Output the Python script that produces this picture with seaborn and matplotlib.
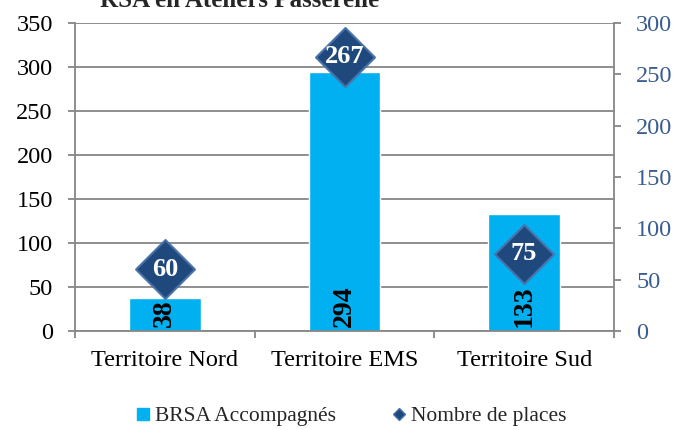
import matplotlib
matplotlib.use('Agg')
import matplotlib.pyplot as plt
import seaborn as sns
from matplotlib.lines import Line2D

# ==================== Data ====================
territoires = ['Territoire Nord', 'Territoire EMS', 'Territoire Sud']
brsa_accompagnes = [38, 294, 133]
nombre_places = [60, 267, 75]

# ==================== Style ====================
sns.set_style("white")
plt.rcParams['font.family'] = ['Liberation Serif', 'DejaVu Serif']

BAR_COLOR = '#00B0F0'
DIAMOND = '#1F497D'
DIAMOND_EDGE = '#4A72AA'
AXIS_GRAY = '#868686'
RIGHT_TXT = '#3A5D8F'

fig = plt.figure(figsize=(6.88, 4.3), dpi=100)
ax = fig.add_axes([75 / 688, 1 - 331 / 430, (614 - 75) / 688, (331 - 23) / 430])

sns.barplot(x=territoires, y=brsa_accompagnes, color=BAR_COLOR, width=0.4,
            saturation=1, ax=ax, zorder=2)
ax.set_xlim(-0.5, 2.5)
ax.set_ylim(0, 350)
ax.set_yticks(range(0, 351, 50))
ax.set_axisbelow(True)
ax.yaxis.grid(True, color=AXIS_GRAY, linewidth=1.3)
ax.xaxis.grid(False)

for side in ['top', 'right']:
    ax.spines[side].set_visible(False)
for side in ['left', 'bottom']:
    ax.spines[side].set_color(AXIS_GRAY)
    ax.spines[side].set_linewidth(1.3)

ax.tick_params(axis='y', which='major', left=True, length=5, width=1.3, color=AXIS_GRAY,
               pad=11, labelsize=17.5, labelcolor='black')
ax.tick_params(axis='x', which='major', length=0, pad=14, labelsize=17.5, labelcolor='black')
ax.set_xticks([-0.5, 0.5, 1.5, 2.5], minor=True)
ax.tick_params(axis='x', which='minor', bottom=True, length=5, width=1.3, color=AXIS_GRAY)

# bar value labels (rotated, at base)
for i, v in enumerate(brsa_accompagnes):
    ax.annotate(str(v), xy=(i, 0), xytext=(0, 3), textcoords='offset points',
                rotation=90, ha='center', va='bottom', fontsize=20,
                fontweight='bold', color='black', zorder=3)

# ==================== Secondary axis ====================
ax2 = ax.twinx()
sns.scatterplot(x=list(range(len(territoires))), y=nombre_places, marker='D', s=900,
                color=DIAMOND, edgecolor=DIAMOND_EDGE, linewidth=1.5, ax=ax2,
                zorder=4, legend=False)
ax2.set_xlim(-0.5, 2.5)
ax2.set_ylim(0, 300)
ax2.set_yticks(range(0, 301, 50))
for side in ['top', 'left', 'bottom']:
    ax2.spines[side].set_visible(False)
ax2.spines['right'].set_color(AXIS_GRAY)
ax2.spines['right'].set_linewidth(1.3)
ax2.tick_params(axis='y', right=True, length=5, width=1.3, color=AXIS_GRAY,
                pad=11, labelsize=17.5, labelcolor=RIGHT_TXT)
ax2.set_ylabel('')

for i, v in enumerate(nombre_places):
    ax2.text(i, v, str(v), ha='center', va='center', fontsize=19,
             fontweight='bold', color='white', zorder=5)

# ==================== Title & legend ====================
fig.text(240 / 688, 1 - 7 / 430, 'RSA en Ateliers Passerelle', ha='center',
         va='baseline', fontsize=18, fontweight='bold')

handles = [
    Line2D([], [], marker='s', linestyle='none', markersize=8.5,
           markerfacecolor=BAR_COLOR, markeredgecolor=BAR_COLOR),
    Line2D([], [], marker='D', linestyle='none', markersize=6.5,
           markerfacecolor=DIAMOND, markeredgecolor=DIAMOND_EDGE),
]
fig.legend(handles, ['BRSA Accompagnés', 'Nombre de places'], loc='center',
           bbox_to_anchor=(351 / 688, 1 - 416 / 430), ncol=2, frameon=False,
           fontsize=15.5, handlelength=0.7, handletextpad=0.2, columnspacing=2.6)

fig.savefig('out.png', dpi=100)
